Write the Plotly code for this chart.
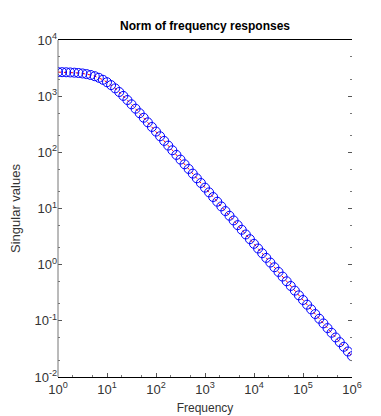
import plotly.graph_objects as go

# frequency grid (12 points per decade) and singular values
freq = [
    1.0, 1.2115, 1.4678, 1.7783, 2.1544, 2.6102, 3.1623, 3.8312, 4.6416, 5.6234, 6.8129, 8.254,
    10.0, 12.115, 14.678, 17.783, 21.544, 26.102, 31.623, 38.312, 46.416, 56.234, 68.129, 82.54,
    100.0, 121.15, 146.78, 177.83, 215.44, 261.02, 316.23, 383.12, 464.16, 562.34, 681.29, 825.4,
    1000.0, 1211.5, 1467.8, 1778.3, 2154.4, 2610.2, 3162.3, 3831.2, 4641.6, 5623.4, 6812.9, 8254.0,
    1.0e4, 1.2115e4, 1.4678e4, 1.7783e4, 2.1544e4, 2.6102e4, 3.1623e4, 3.8312e4, 4.6416e4, 5.6234e4, 6.8129e4, 8.254e4,
    1.0e5, 1.2115e5, 1.4678e5, 1.7783e5, 2.1544e5, 2.6102e5, 3.1623e5, 3.8312e5, 4.6416e5, 5.6234e5, 6.8129e5, 8.254e5,
    1.0e6,
]
sv = [
    2682.3, 2674.2, 2662.4, 2645.3, 2620.9, 2586.1, 2537.6, 2471.0, 2382.2, 2267.6, 2125.8, 1958.7,
    1772.2, 1574.9, 1376.7, 1186.5, 1011.0, 853.8, 716.2, 597.9, 497.4, 412.8, 342.0, 283.0,
    234.0, 193.4, 159.8, 131.9, 108.9, 89.94, 74.25, 61.30, 50.60, 41.77, 34.48, 28.46,
    23.49, 19.39, 16.00, 13.21, 10.90, 9.000, 7.428, 6.131, 5.061, 4.177, 3.448, 2.846,
    2.349, 1.939, 1.600, 1.321, 1.090, 0.8999, 0.7428, 0.6131, 0.5061, 0.4177, 0.3448, 0.2846,
    0.2349, 0.1939, 0.1600, 0.1321, 0.1090, 0.08999, 0.07428, 0.06131, 0.05061, 0.04177, 0.03448, 0.02846,
    0.02349,
]

x_ticks = [1, 10, 100, 1e3, 1e4, 1e5, 1e6]
x_labels = ["10<sup>%d</sup>" % i for i in range(0, 7)]
y_ticks = [1e-2, 1e-1, 1, 10, 100, 1e3, 1e4]
y_labels = ["10<sup>%d</sup>" % i for i in range(-2, 5)]

font_main = "Liberation Sans Narrow, Arial Narrow, Liberation Sans, Arial"

fig = go.Figure()
fig.add_trace(go.Scatter(
    x=freq, y=sv,
    mode="lines+markers",
    line=dict(color="red", width=1, dash="dot"),
    marker=dict(symbol="circle-open", size=9, color="blue", line=dict(width=1, color="blue")),
    showlegend=False,
))

fig.update_layout(
    width=381, height=416,
    margin=dict(l=50, r=37, t=32, b=47),
    paper_bgcolor="white", plot_bgcolor="white",
    font=dict(family=font_main, color="#333333", size=12),
    title=dict(text="<b>Norm of frequency responses</b>", x=0.5, xanchor="center",
               xref="paper", y=0.958, yanchor="middle",
               font=dict(size=12, color="black", family="Liberation Sans, Arial")),
    xaxis=dict(
        type="log", range=[0, 6], automargin=False,
        tickvals=x_ticks, ticktext=x_labels,
        showgrid=False, zeroline=False,
        showline=True, linecolor="black", linewidth=1, mirror=True,
        ticks="inside", ticklen=4, tickcolor="#555555",
        minor=dict(ticks="inside", ticklen=2, tickcolor="#777777", showgrid=False),
        tickfont=dict(size=13, color="#333333"),
        title=dict(text="Frequency", font=dict(size=12, color="#333333"), standoff=8),
    ),
    yaxis=dict(
        type="log", range=[-2, 4], automargin=False,
        tickvals=y_ticks, ticktext=y_labels,
        showgrid=False, zeroline=False,
        showline=False, mirror="ticks",
        ticks="inside", ticklen=4, tickcolor="#555555",
        minor=dict(ticks="inside", ticklen=2, tickcolor="#777777", showgrid=False),
        tickfont=dict(size=13, color="#333333"),
        title=dict(text="Singular values", font=dict(size=13, color="#333333"), standoff=10),
    ),
    shapes=[dict(type="line", xref="paper", yref="paper", x0=0, x1=0, y0=0, y1=1,
                 line=dict(color="#777777", width=1))],
)

fig.write_html("out.html")
